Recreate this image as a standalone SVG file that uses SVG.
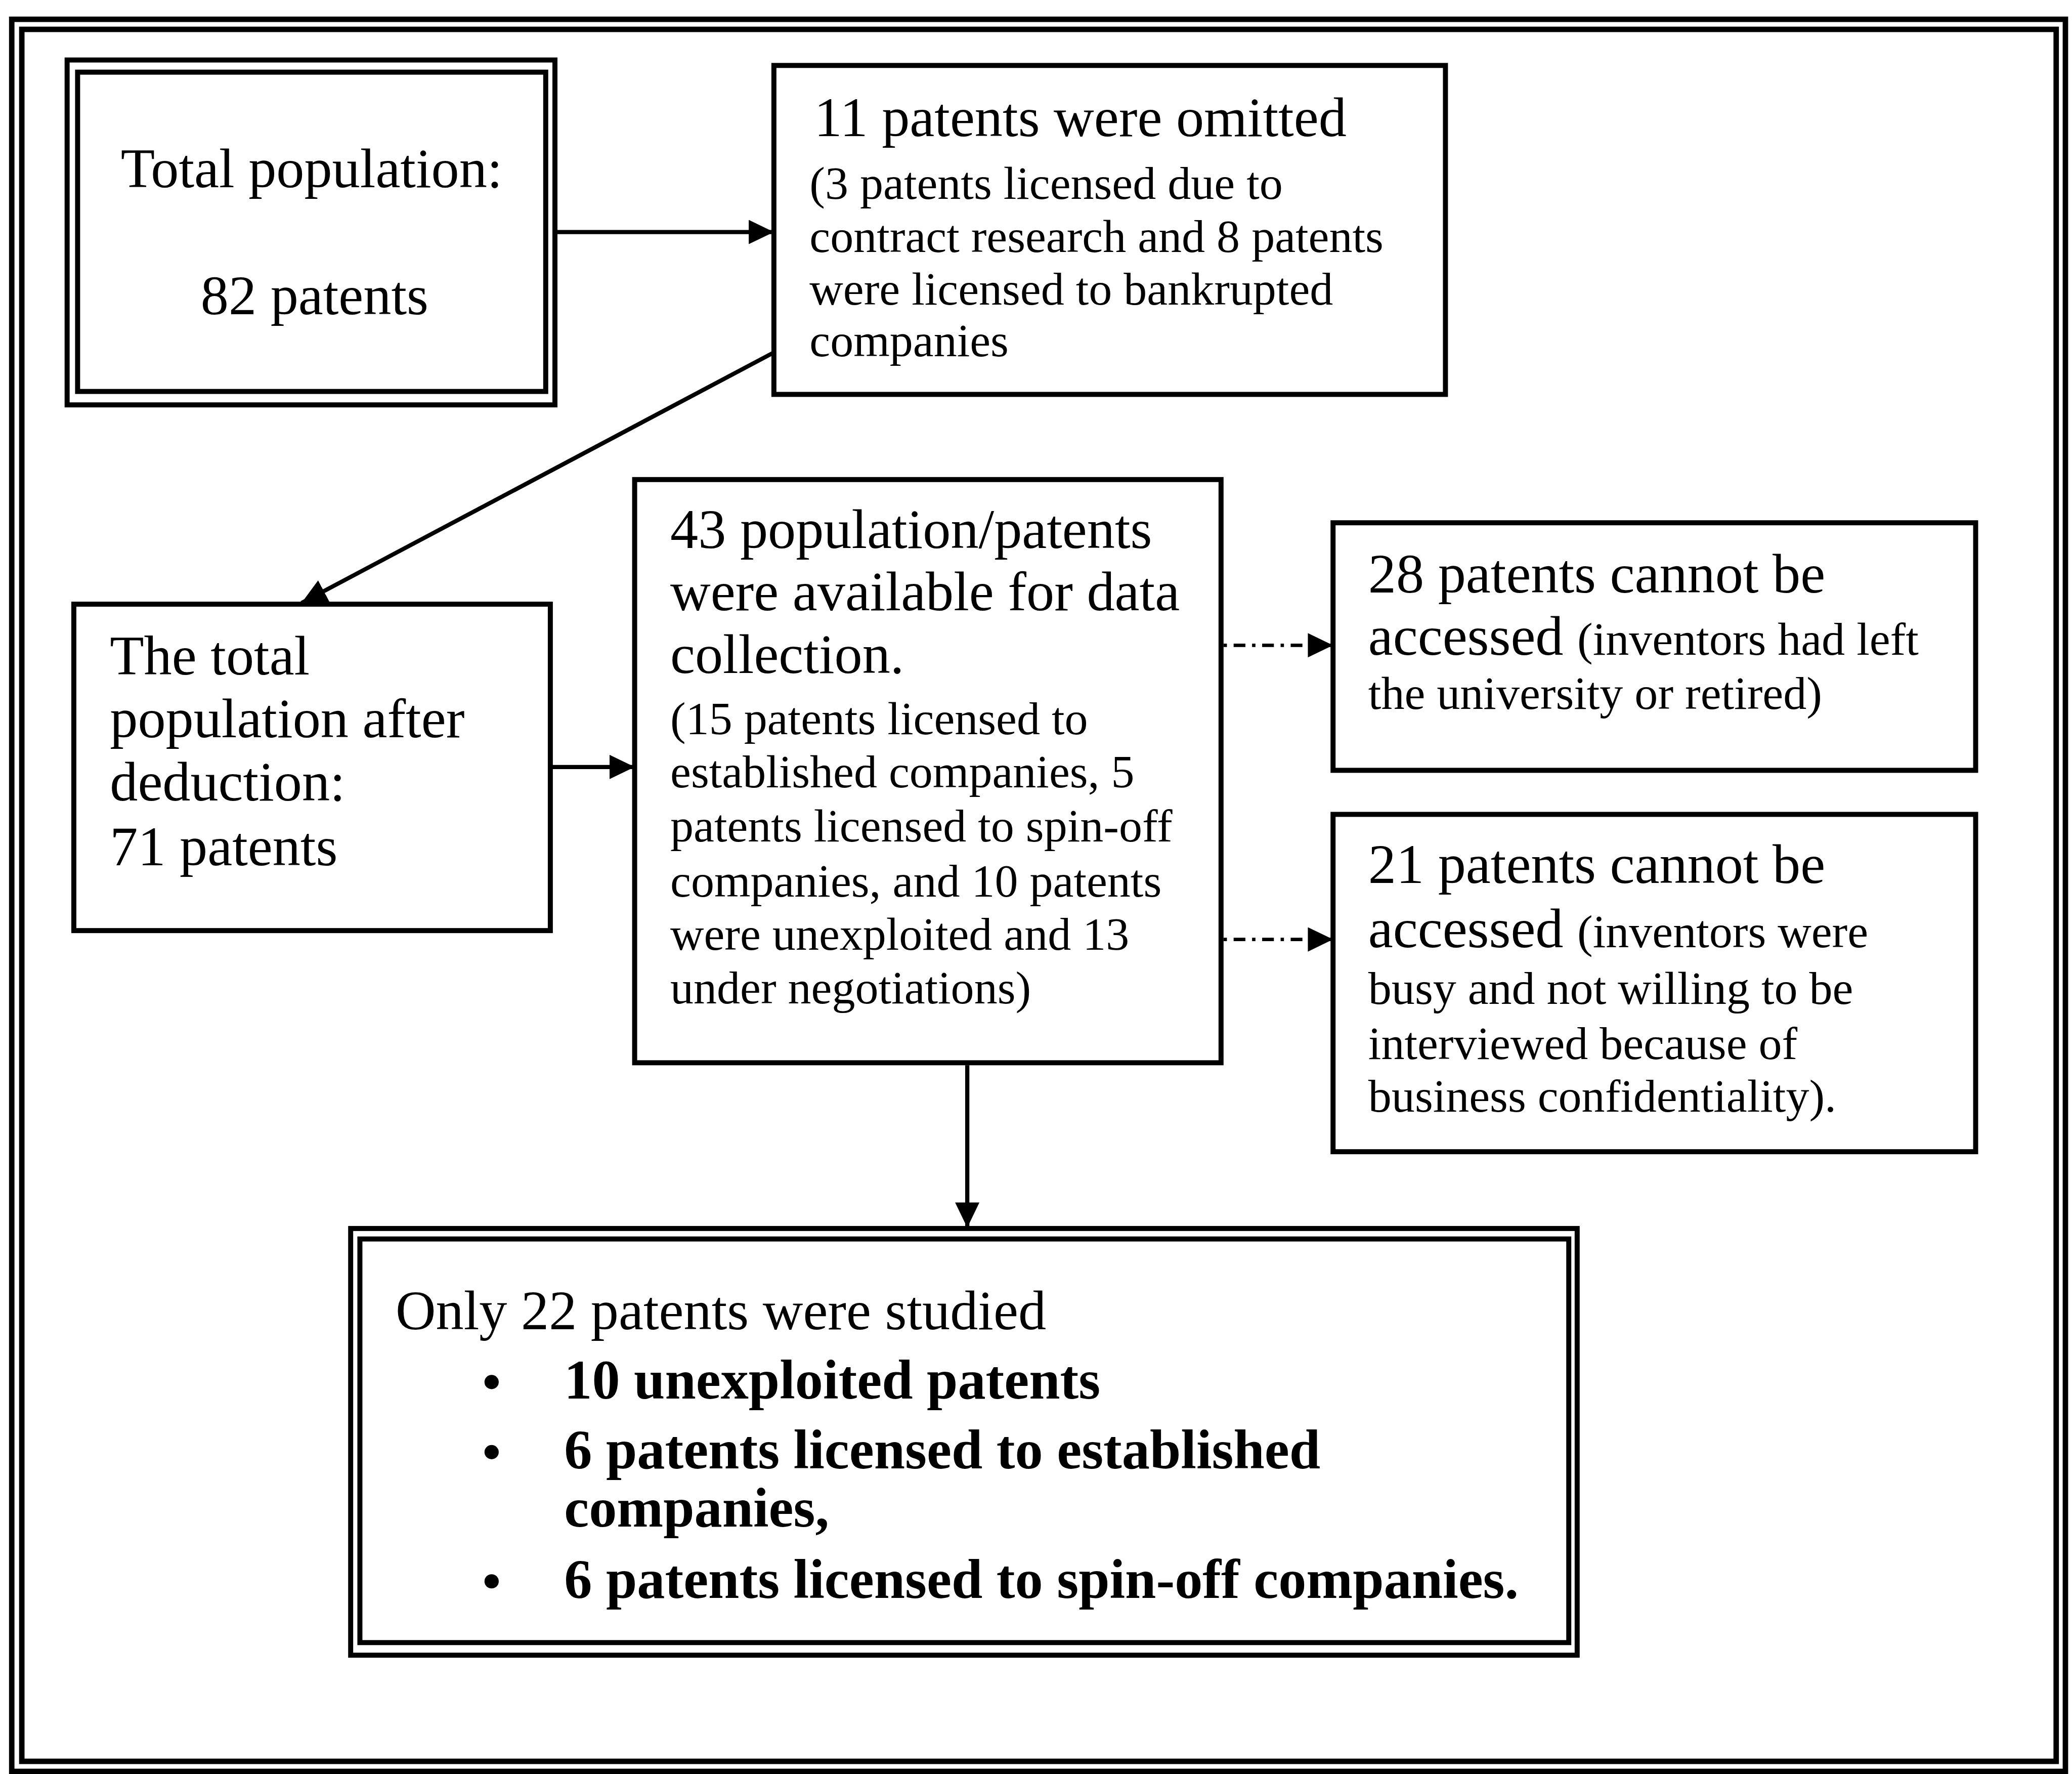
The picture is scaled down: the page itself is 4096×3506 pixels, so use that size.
<svg xmlns="http://www.w3.org/2000/svg" width="4096" height="3506" viewBox="0 0 4096 3506">
  <defs>
    <style>
      .frame { fill: none; stroke: #000; stroke-width: 13; }
      .box { fill: #fff; stroke: #000; stroke-width: 12; }
      .edge { fill: none; stroke: #000; stroke-width: 10; }
      .edge-dot { fill: none; stroke: #000; stroke-width: 8; stroke-dasharray: 8 16 28 16; }
      text { font-family: "Liberation Serif", "Times New Roman", serif; fill: #000; }
      .lg { font-size: 133px; }
      .sm { font-size: 111px; }
      .bd { font-size: 133px; font-weight: bold; }
    </style>
    <marker id="arrow" markerUnits="userSpaceOnUse" markerWidth="62" markerHeight="60" refX="60" refY="29" orient="auto">
      <path d="M0,0 L60,29 L0,58 z" fill="#000"/>
    </marker>
  </defs>

  <rect width="4096" height="3506" fill="#fff"/>

  <g transform="scale(0.8292)">
    <!-- page frame: double rule -->
    <g id="frame">
      <rect class="frame" x="28" y="46" width="4896" height="4176"/>
      <rect class="frame" x="52" y="70" width="4850" height="4128"/>
    </g>

    <!-- connectors -->
    <g id="connectors">
      <line class="edge" x1="1323" y1="553" x2="1845" y2="553" marker-end="url(#arrow)"/>
      <line class="edge" x1="1845" y1="840" x2="719" y2="1437" stroke-width="11" marker-end="url(#arrow)"/>
      <line class="edge" x1="1312" y1="1828" x2="1513" y2="1828" stroke-width="13" marker-end="url(#arrow)"/>
      <line class="edge-dot" x1="2917" y1="1538" x2="3178" y2="1538" marker-end="url(#arrow)"/>
      <line class="edge-dot" x1="2917" y1="2239" x2="3178" y2="2239" marker-end="url(#arrow)"/>
      <line class="edge" x1="2306" y1="2539" x2="2306" y2="2926" stroke-width="8" marker-end="url(#arrow)"/>
    </g>

    <!-- total population (double border) -->
    <g id="node-total">
      <rect class="box" x="160" y="143" width="1163" height="822"/>
      <rect class="box" x="185" y="172" width="1116" height="761"/>
      <text class="lg" x="743" y="446" text-anchor="middle">Total population:</text>
      <text class="lg" x="750" y="749" text-anchor="middle">82 patents</text>
    </g>

    <!-- omitted patents -->
    <g id="node-omitted">
      <rect class="box" x="1845" y="156" width="1601" height="784"/>
      <text class="lg" x="1941" y="324">11 patents were omitted</text>
      <text class="sm" x="1930" y="474">(3 patents licensed due to</text>
      <text class="sm" x="1930" y="600">contract research and 8 patents</text>
      <text class="sm" x="1930" y="726">were licensed to bankrupted</text>
      <text class="sm" x="1930" y="849">companies</text>
    </g>

    <!-- population after deduction -->
    <g id="node-after">
      <rect class="box" x="176" y="1440" width="1136" height="778"/>
      <text class="lg" x="262" y="1608">The total</text>
      <text class="lg" x="262" y="1757">population after</text>
      <text class="lg" x="262" y="1908">deduction:</text>
      <text class="lg" x="262" y="2062">71 patents</text>
    </g>

    <!-- available for data collection -->
    <g id="node-available">
      <rect class="box" x="1513" y="1143" width="1398" height="1390"/>
      <text class="lg" x="1598" y="1306">43 population/patents</text>
      <text class="lg" x="1598" y="1455">were available for data</text>
      <text class="lg" x="1598" y="1604">collection.</text>
      <text class="sm" x="1598" y="1750">(15 patents licensed to</text>
      <text class="sm" x="1598" y="1876">established companies, 5</text>
      <text class="sm" x="1598" y="2006">patents licensed to spin-off</text>
      <text class="sm" x="1598" y="2137">companies, and 10 patents</text>
      <text class="sm" x="1598" y="2264">were unexploited and 13</text>
      <text class="sm" x="1598" y="2392">under negotiations)</text>
    </g>

    <!-- inaccessible: inventors left -->
    <g id="node-left">
      <rect class="box" x="3178" y="1246" width="1532" height="590"/>
      <text class="lg" x="3262" y="1412">28 patents cannot be</text>
      <text x="3262" y="1560"><tspan class="lg">accessed </tspan><tspan class="sm">(inventors had left</tspan></text>
      <text class="sm" x="3262" y="1690">the university or retired)</text>
    </g>

    <!-- inaccessible: inventors busy -->
    <g id="node-busy">
      <rect class="box" x="3178" y="1941" width="1532" height="804"/>
      <text class="lg" x="3262" y="2104">21 patents cannot be</text>
      <text x="3262" y="2258"><tspan class="lg">accessed </tspan><tspan class="sm">(inventors were</tspan></text>
      <text class="sm" x="3262" y="2393">busy and not willing to be</text>
      <text class="sm" x="3262" y="2524">interviewed because of</text>
      <text class="sm" x="3262" y="2650">business confidentiality).</text>
    </g>

    <!-- studied patents (double border) -->
    <g id="node-studied">
      <rect class="box" x="836" y="2928" width="2924" height="1017"/>
      <rect class="box" x="858" y="2953" width="2882" height="962"/>
      <text class="lg" x="943" y="3168">Only 22 patents were studied</text>
      <circle cx="1172" cy="3294" r="17"/>
      <text class="bd" x="1345" y="3333">10 unexploited patents</text>
      <circle cx="1172" cy="3461" r="17"/>
      <text class="bd" x="1345" y="3500">6 patents licensed to established</text>
      <text class="bd" x="1345" y="3639">companies,</text>
      <circle cx="1172" cy="3769" r="17"/>
      <text class="bd" x="1345" y="3808">6 patents licensed to spin-off companies.</text>
    </g>
  </g>
</svg>
